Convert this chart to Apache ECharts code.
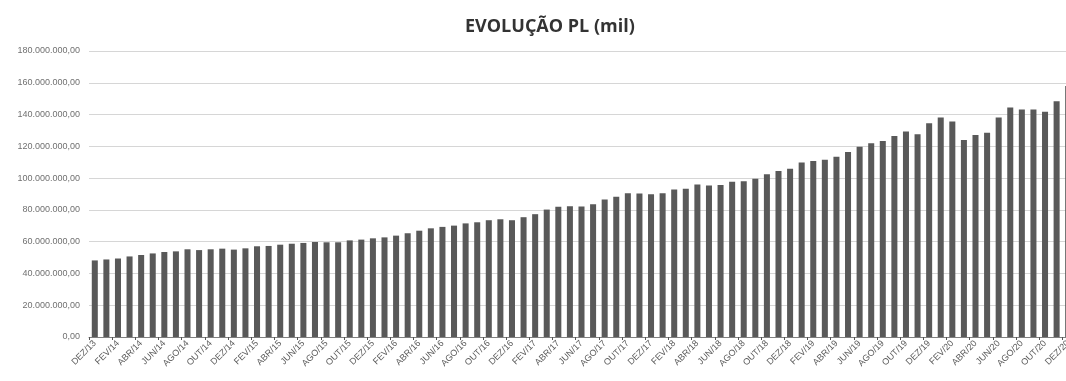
<!DOCTYPE html>
<html>
<head>
<meta charset="utf-8">
<script src="https://cdn.jsdelivr.net/npm/echarts@6/dist/echarts.min.js"></script>
<style>
html,body{margin:0;padding:0;background:#fff;}
#chart{width:1066px;height:381px;}
</style>
</head>
<body>
<div id="chart"></div>
<script>
const chartTitle = 'EVOLUÇÃO PL (mil)';

const categories = [
  'DEZ/13',
  'JAN/14','FEV/14','MAR/14','ABR/14','MAI/14','JUN/14','JUL/14','AGO/14','SET/14','OUT/14','NOV/14','DEZ/14',
  'JAN/15','FEV/15','MAR/15','ABR/15','MAI/15','JUN/15','JUL/15','AGO/15','SET/15','OUT/15','NOV/15','DEZ/15',
  'JAN/16','FEV/16','MAR/16','ABR/16','MAI/16','JUN/16','JUL/16','AGO/16','SET/16','OUT/16','NOV/16','DEZ/16',
  'JAN/17','FEV/17','MAR/17','ABR/17','MAI/17','JUN/17','JUL/17','AGO/17','SET/17','OUT/17','NOV/17','DEZ/17',
  'JAN/18','FEV/18','MAR/18','ABR/18','MAI/18','JUN/18','JUL/18','AGO/18','SET/18','OUT/18','NOV/18','DEZ/18',
  'JAN/19','FEV/19','MAR/19','ABR/19','MAI/19','JUN/19','JUL/19','AGO/19','SET/19','OUT/19','NOV/19','DEZ/19',
  'JAN/20','FEV/20','MAR/20','ABR/20','MAI/20','JUN/20','JUL/20','AGO/20','SET/20','OUT/20','NOV/20','DEZ/20'
];

// PL values in millions
const plMillions = [
  48.2,
  48.8, 49.4, 50.7, 51.6, 52.6, 53.5, 53.9, 55.2, 54.7, 55.2, 55.6, 55.0,
  55.8, 57.1, 57.3, 58.1, 58.7, 59.2, 59.8, 59.6, 59.6, 60.8, 61.3, 62.1,
  62.7, 63.8, 65.3, 66.9, 68.4, 69.3, 70.1, 71.5, 72.2, 73.5, 74.1, 73.5,
  75.4, 77.3, 80.2, 81.9, 82.3, 82.1, 83.6, 86.5, 88.2, 90.5, 90.3, 89.9,
  90.5, 92.8, 93.3, 96.0, 95.4, 95.6, 97.7, 98.1, 99.6, 102.5, 104.4, 105.9,
  109.9, 110.7, 111.6, 113.5, 116.4, 119.8, 121.9, 123.4, 126.5, 129.3, 127.6, 134.5,
  138.1, 135.6, 124.0, 127.2, 128.6, 138.1, 144.4, 143.2, 143.2, 141.7, 148.4, 158.0
];

// y-axis ticks (millions) and their printed labels
const yTicks = [0, 20, 40, 60, 80, 100, 120, 140, 160, 180];
const yTickLabels = ['0,00','20.000.000,00','40.000.000,00','60.000.000,00','80.000.000,00',
  '100.000.000,00','120.000.000,00','140.000.000,00','160.000.000,00','180.000.000,00'];

const chart = echarts.init(document.getElementById('chart'), null, {renderer: 'canvas'});
chart.setOption({
  backgroundColor: '#ffffff',
  animation: false,
  title: {
    text: chartTitle,
    left: 460,
    top: 13,
    textStyle: {
      fontFamily: 'Open Sans',
      fontWeight: 'bold',
      fontSize: 18,
      color: '#333333'
    }
  },
  grid: {
    left: 89,
    right: -8,
    top: 51,
    bottom: 44,
    containLabel: false,
    outerBoundsMode: 'none'
  },
  xAxis: {
    type: 'category',
    data: categories,
    boundaryGap: true,
    axisLine: {show: true, lineStyle: {color: '#808080', width: 1}},
    axisTick: {show: true, interval: 1, length: 3, lineStyle: {color: '#555'}},
    axisLabel: {
      interval: 1,
      rotate: 45,
      margin: 5,
      fontFamily: 'Liberation Sans',
      fontSize: 9,
      color: '#5a5a5a'
    },
    splitLine: {show: false}
  },
  yAxis: {
    type: 'value',
    min: yTicks[0],
    max: yTicks[yTicks.length - 1],
    interval: 20,
    axisLine: {show: false},
    axisTick: {show: false},
    axisLabel: {
      margin: 9,
      fontFamily: 'Liberation Sans',
      fontSize: 9,
      color: '#707070',
      formatter: function (v) {
        const i = yTicks.indexOf(v);
        return i >= 0 ? yTickLabels[i] : '';
      }
    },
    splitLine: {show: true, lineStyle: {color: '#d6d6d6', width: 1}}
  },
  series: [{
    type: 'bar',
    name: 'PL',
    data: plMillions,
    barCategoryGap: '48%',
    itemStyle: {color: '#595959'}
  }]
});
</script>
</body>
</html>
